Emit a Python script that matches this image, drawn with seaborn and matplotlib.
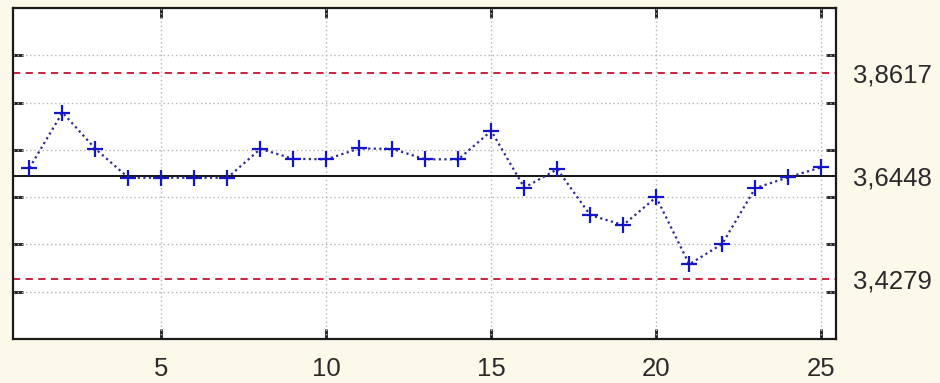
import numpy as np
import pandas as pd
import matplotlib
matplotlib.use("Agg")
import matplotlib.pyplot as plt
import seaborn as sns

# Sample means for 25 subgroups
samples = list(range(1, 26))
means = [3.662, 3.779, 3.702, 3.641, 3.641, 3.641, 3.641, 3.702, 3.681, 3.680,
         3.703, 3.702, 3.680, 3.680, 3.740, 3.620, 3.659, 3.562, 3.541, 3.600,
         3.458, 3.501, 3.619, 3.642, 3.663]

# Control limits
center_line = 3.6448
upper_limit = 3.8617
lower_limit = 3.4279
limit_labels = ["3,8617", "3,6448", "3,4279"]

x_ticks = [5, 10, 15, 20, 25]
y_grid = [3.4, 3.5, 3.6, 3.7, 3.8, 3.9]

sns.set_style("white")
plt.rcParams["font.family"] = ["Liberation Sans", "DejaVu Sans"]

bg = "#fcf8ea"
fig = plt.figure(figsize=(9.4, 3.83), dpi=100, facecolor=bg)
ax = fig.add_axes([13 / 940, 44 / 383, 823 / 940, 331 / 383])
ax.set_facecolor("white")

df = pd.DataFrame({"sample": samples, "mean": means})

# Grid
for yv in y_grid:
    ax.axhline(yv, color="#b4b4b4", linestyle=(0, (1, 2)), linewidth=1.0, zorder=1)
for xv in x_ticks:
    ax.axvline(xv, color="#b4b4b4", linestyle=(0, (1, 2)), linewidth=1.0, zorder=1)

# Control lines
ax.axhline(center_line, color="black", linewidth=1.3, zorder=2)
ax.axhline(upper_limit, color="#c8102e", linestyle=(0, (4, 3)), linewidth=1.3, zorder=2)
ax.axhline(lower_limit, color="#c8102e", linestyle=(0, (4, 3)), linewidth=1.3, zorder=2)

sns.lineplot(data=df, x="sample", y="mean", ax=ax, color="#2b2b8f",
             linestyle=(0, (1, 1.5)), linewidth=1.6, marker="+", markersize=11,
             markeredgewidth=1.6, markeredgecolor="#1414c8", zorder=3)

ax.set_xlim(0.5, 25.45)
ax.set_ylim(3.3, 4.0)
ax.set_xticks(x_ticks)
ax.set_xticklabels([str(v) for v in x_ticks])
ax.set_yticks(y_grid)
ax.set_xlabel("")
ax.set_ylabel("")

# Control limit labels on the right
ax2 = ax.twinx()
ax2.set_ylim(ax.get_ylim())
ax2.set_yticks([upper_limit, center_line, lower_limit])
ax2.set_yticklabels(limit_labels)
ax2.tick_params(axis="y", length=0, pad=12, labelsize=18.5, labelcolor="#2a2a2a")
for s in ax2.spines.values():
    s.set_visible(False)

ax.xaxis.set_ticks_position("both")
ax.yaxis.set_ticks_position("both")
ax.tick_params(axis="x", which="major", direction="in", top=True, bottom=True,
               labeltop=False, labelbottom=True, length=7, width=2,
               labelsize=18.5, pad=13, color="#1a1a1a", labelcolor="#2a2a2a")
ax.tick_params(axis="y", which="major", direction="in", left=True, right=True,
               length=7, width=2, labelleft=False, labelright=False, color="#1a1a1a")
for s in ax.spines.values():
    s.set_visible(True)
    s.set_color("#1a1a1a")
    s.set_linewidth(1.6)

fig.savefig("out.png", dpi=100, facecolor=bg)
